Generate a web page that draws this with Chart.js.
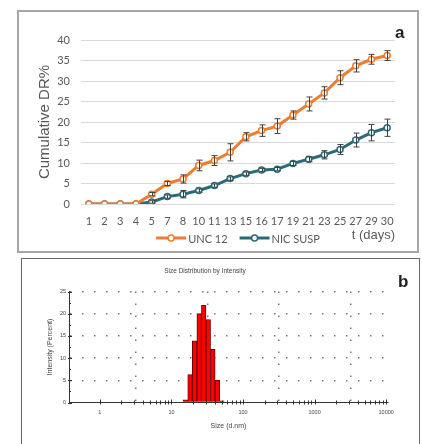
<!DOCTYPE html>
<html><head><meta charset="utf-8">
<script src="https://cdn.jsdelivr.net/npm/chart.js@4.4.1/dist/chart.umd.min.js"></script>
<style>
html,body{margin:0;padding:0;background:#fff;width:422px;height:444px;overflow:hidden}
#pa{position:absolute;left:17px;top:10px;width:398px;height:239px;border:2px solid #a6a6a6;}
#pb{position:absolute;left:21px;top:258px;width:397px;height:200px;border:1px solid #666;}
#ca{position:absolute;left:20px;top:12px;}
#cb{position:absolute;left:22px;top:259px;}
.lbl{position:absolute;font:bold 17px "Liberation Sans",Arial,sans-serif;line-height:17px;color:#222}
</style></head>
<body>
<div id="pa"></div>
<div id="pb"></div>
<canvas id="ca" width="396" height="238"></canvas>
<canvas id="cb" width="396" height="185"></canvas>
<div class="lbl" style="left:395px;top:24px">a</div>
<div class="lbl" style="left:398px;top:273px">b</div>
<script>
// ---- Panel a data ----
const days = ['1','2','3','4','5','7','8','10','11','13','15','16','17','19','21','23','25','27','29','30'];
const unc12 = [0,0,0,0,2.4,5.0,6.1,9.4,10.6,12.6,16.4,17.9,19.0,21.7,24.4,27.1,30.8,33.7,35.3,36.2];
const unc12Err = [0,0,0,0,0.4,0.5,1.0,1.3,1.2,2.1,1.0,1.4,1.8,1.0,1.7,1.5,1.7,1.5,1.2,1.2];
const nicSusp = [0,0,0,0,0.5,1.8,2.4,3.3,4.5,6.2,7.4,8.3,8.5,9.9,10.9,12.0,13.3,15.6,17.4,18.6];
const nicSuspErr = [0,0,0,0,0.3,0.4,0.9,0.4,0.4,0.4,0.4,0.4,0.4,0.5,0.6,1.0,1.2,1.7,2.0,2.1];
const drTicks = [0,5,10,15,20,25,30,35,40];

// ---- Panel b data ----
const sizeNm = [15.69,18.17,21.04,24.36,28.21,32.67,37.84,43.82,50.75];
const intensityPct = [0.6,6.3,13.9,20.0,21.9,18.7,12.0,5.0,0.4];
const sizeTicks = [1,10,100,1000,10000];
const intensityTicks = [0,5,10,15,20,25];

const ORANGE = '#ED7D31', TEAL = '#2A6B78', GREY = '#595959';

const errorBars = {
  id: 'errorBars',
  afterDatasetsDraw(chart) {
    const ctx = chart.ctx, ys = chart.scales.y;
    ctx.save();
    ctx.strokeStyle = '#404040';
    ctx.lineWidth = 1;
    chart.data.datasets.forEach((ds, i) => {
      const meta = chart.getDatasetMeta(i);
      meta.data.forEach((pt, j) => {
        const e = ds.err[j];
        if (!e) return;
        const v = ds.data[j];
        const y1 = ys.getPixelForValue(v + e), y2 = ys.getPixelForValue(v - e);
        const x = Math.round(pt.x) + 0.5;
        ctx.beginPath();
        ctx.moveTo(x, y1); ctx.lineTo(x, y2);
        ctx.moveTo(x - 3, y1); ctx.lineTo(x + 3, y1);
        ctx.moveTo(x - 3, y2); ctx.lineTo(x + 3, y2);
        ctx.stroke();
      });
    });
    ctx.restore();
  }
};

const legendA = {
  id: 'legendA',
  afterDraw(chart) {
    const ctx = chart.ctx, a = chart.chartArea;
    ctx.save();
    ctx.font = '11px Lato, "Open Sans", sans-serif';
    const lineW = 30, gap = 12;
    const items = chart.data.datasets.map(ds => ({ds, w: lineW + 2 + ctx.measureText(ds.label).width}));
    const total = items.reduce((s, it) => s + it.w, 0) + gap * (items.length - 1);
    let x = (a.left + a.right) / 2 - total / 2;
    const y = a.bottom + 34;
    items.forEach(it => {
      const c = it.ds.borderColor;
      ctx.strokeStyle = c; ctx.lineWidth = 3;
      ctx.beginPath(); ctx.moveTo(x, y); ctx.lineTo(x + lineW, y); ctx.stroke();
      ctx.beginPath(); ctx.arc(x + lineW / 2, y, 3, 0, Math.PI * 2);
      ctx.fillStyle = '#fff'; ctx.fill();
      ctx.lineWidth = 1.5; ctx.stroke();
      ctx.fillStyle = GREY; ctx.textBaseline = 'middle'; ctx.textAlign = 'left';
      ctx.fillText(it.ds.label, x + lineW + 2, y + 1);
      x += it.w + gap;
    });
    ctx.restore();
  }
};

new Chart(document.getElementById('ca'), {
  type: 'line',
  data: {
    labels: days,
    datasets: [
      {label: 'UNC 12', data: unc12, err: unc12Err, borderColor: ORANGE, backgroundColor: '#fff',
       borderWidth: 3, pointRadius: 3, pointBorderWidth: 1.5, pointBackgroundColor: '#fff',
       pointBorderColor: ORANGE, tension: 0},
      {label: 'NIC SUSP', data: nicSusp, err: nicSuspErr, borderColor: TEAL, backgroundColor: '#fff',
       borderWidth: 3, pointRadius: 3, pointBorderWidth: 1.5, pointBackgroundColor: '#fff',
       pointBorderColor: TEAL, tension: 0}
    ]
  },
  options: {
    responsive: false, animation: false, devicePixelRatio: 1,
    layout: {padding: {left: 0, right: 21, top: 28, bottom: 0}},
    plugins: {legend: {display: false}, tooltip: {enabled: false}},
    scales: {
      x: {
        offset: true,
        grid: {display: false, drawTicks: false}, border: {display: false},
        ticks: {color: GREY, font: {family: 'Lato', size: 11}, padding: 11, autoSkip: false, maxRotation: 0},
        title: {display: true, text: 't (days)', align: 'end', color: GREY,
                font: {family: 'Liberation Sans', size: 13}, padding: {top: 0, bottom: 7}},
        afterFit: s => { s.height = 46; }
      },
      y: {
        min: 0, max: 40,
        afterBuildTicks: s => { s.ticks = drTicks.map(v => ({value: v})); },
        ticks: {color: GREY, font: {family: 'Lato', size: 11}, padding: 11},
        grid: {color: '#d9d9d9', drawTicks: false},
        border: {display: false},
        title: {display: true, text: 'Cumulative DR%', color: GREY,
                font: {family: 'Liberation Sans', size: 15}, padding: {top: 16, bottom: 0}},
        afterFit: s => { s.width = 61; }
      }
    }
  },
  plugins: [errorBars, legendA]
});

const minorMarks = {
  id: 'minorMarks',
  afterDraw(chart) {
    const {ctx, chartArea: a, scales: {x, y}} = chart;
    ctx.save();
    ctx.strokeStyle = '#333'; ctx.lineWidth = 1;
    ctx.beginPath();
    sizeTicks.slice(0, -1).forEach(d => {
      for (let m = 1; m <= 9; m++) {
        const px = Math.round(x.getPixelForValue(d * m)) + 0.5;
        const h = m === 1 ? 3 : 2;
        ctx.moveTo(px, a.bottom - h); ctx.lineTo(px, a.bottom + 2);
      }
    });
    const last = Math.round(x.getPixelForValue(sizeTicks[sizeTicks.length - 1])) + 0.5;
    ctx.moveTo(last, a.bottom - 3); ctx.lineTo(last, a.bottom + 2);
    for (let i = 0; i < intensityTicks.length; i++) {
      const v = intensityTicks[i];
      const py = Math.round(y.getPixelForValue(v)) + 0.5;
      ctx.moveTo(a.left - 1, py); ctx.lineTo(a.left + 3, py);
      if (i < intensityTicks.length - 1) {
        const mid = Math.round(y.getPixelForValue((v + intensityTicks[i + 1]) / 2)) + 0.5;
        ctx.moveTo(a.left, mid); ctx.lineTo(a.left + 2, mid);
      }
    }
    ctx.stroke();
    ctx.restore();
  }
};

const TXT = '#444';
new Chart(document.getElementById('cb'), {
  type: 'bar',
  data: {
    datasets: [{
      label: 'Intensity (Percent)',
      data: sizeNm.map((s, i) => ({x: s, y: intensityPct[i]})),
      backgroundColor: '#ff0000', borderColor: '#6b0000', borderWidth: 1,
      barPercentage: 1, categoryPercentage: 1
    }]
  },
  options: {
    responsive: false, animation: false, devicePixelRatio: 1,
    layout: {padding: {left: 0, right: 30, top: 0, bottom: 0}},
    plugins: {
      legend: {display: false}, tooltip: {enabled: false},
      title: {display: true, text: 'Size Distribution by Intensity', color: TXT,
              font: {family: 'Liberation Sans', size: 6.5, weight: 'normal'}, padding: {top: 8, bottom: 16.7}}
    },
    scales: {
      x: {
        type: 'logarithmic', min: 0.37, max: 10600,
        afterBuildTicks: s => { s.ticks = sizeTicks.map(v => ({value: v})); },
        ticks: {callback: v => String(v), color: TXT, font: {family: 'Liberation Sans', size: 5.5},
                padding: 7, maxRotation: 0, autoSkip: false},
        grid: {color: '#777', drawTicks: false, lineWidth: 1.5},
        border: {display: true, color: '#333', width: 1, dash: [1.5, 10.5]},
        title: {display: true, text: 'Size (d.nm)', color: TXT,
                font: {family: 'Liberation Sans', size: 7}, padding: {top: 0, bottom: 13.8}},
        afterFit: s => { s.height = 41.5; }
      },
      y: {
        min: 0, max: 25,
        afterBuildTicks: s => { s.ticks = intensityTicks.map(v => ({value: v})); },
        ticks: {color: TXT, font: {family: 'Liberation Sans', size: 5.5}, padding: 3},
        grid: {color: c => (c.tick && c.tick.value === 0) ? 'rgba(0,0,0,0)' : '#777', drawTicks: false, lineWidth: 1.5},
        border: {display: true, color: '#333', width: 1, dash: [1.5, 10.5]},
        title: {display: true, text: 'Intensity (Percent)', color: TXT,
                font: {family: 'Liberation Sans', size: 7}, padding: {top: 23.8, bottom: 0}},
        afterFit: s => { s.width = 47; }
      }
    }
  },
  plugins: [minorMarks]
});
</script>
</body></html>
